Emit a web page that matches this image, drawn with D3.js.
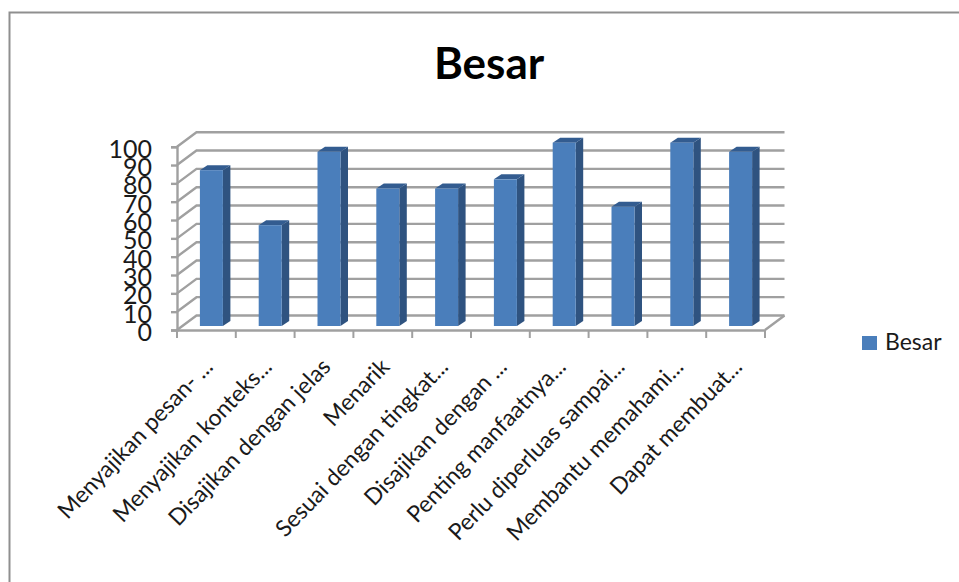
<!DOCTYPE html>
<html>
<head>
<meta charset="utf-8">
<script src="https://cdn.jsdelivr.net/npm/d3@7"></script>
<style>
  html, body { margin: 0; padding: 0; background: #fff; }
  svg { display: block; }
  text { font-family: Lato, "Open Sans", sans-serif; fill: #1a1a1a; }
</style>
</head>
<body>
<svg id="chart"></svg>
<script>
const categories = [
    "Menyajikan pesan- ...",
    "Menyajikan konteks...",
    "Disajikan dengan jelas",
    "Menarik",
    "Sesuai dengan tingkat...",
    "Disajikan dengan ...",
    "Penting manfaatnya...",
    "Perlu diperluas sampai...",
    "Membantu memahami...",
    "Dapat membuat..."
]
const besar = [85, 55, 95, 75, 75, 80, 100, 65, 100, 95]
const yTicks = [0, 10, 20, 30, 40, 50, 60, 70, 80, 90, 100]

const width = 959
const height = 582

const svg = d3.select('#chart')
    .attr('width', width)
    .attr('height', height)

// picture frame, only top and left are visible in the screenshot
svg.append('path')
    .attr('d', 'M9.5,582V12.5H959')
    .attr('fill', 'none')
    .attr('stroke', '#8f8f8f')
    .attr('stroke-width', 2)

svg.append('text')
    .attr('x', 489)
    .attr('y', 79)
    .attr('text-anchor', 'middle')
    .style('font-size', '44px')
    .style('font-weight', 700)
    .style('fill', '#000')
    .text('Besar')

const x = d3.scaleBand().domain(categories).range([177, 765])
const y = d3.scaleLinear().domain([0, 100]).range([330, 146.7])

// depth of the fake 3d floor
const depthX = 19.5
const depthY = -14.5

const gridColor = '#a0a0a0'

// gridlines run up the side wall then along the back wall
svg.append('g')
    .selectAll('path')
    .data(yTicks)
    .join('path')
    .attr('d', d => `M${x.range()[0]},${y(d)}l${depthX},${depthY}H${x.range()[1] + depthX}`)
    .attr('fill', 'none')
    .attr('stroke', gridColor)
    .attr('stroke-width', 2.4)

// floor edge on the right
svg.append('path')
    .attr('d', `M${x.range()[1]},${y(0)}l${depthX},${depthY}`)
    .attr('fill', 'none')
    .attr('stroke', gridColor)
    .attr('stroke-width', 2.4)

const yAxis = d3.axisLeft(y).tickValues(yTicks).tickSize(6).tickPadding(19)
const yG = svg.append('g')
    .attr('transform', `translate(${x.range()[0]},0)`)
    .call(yAxis)
yG.selectAll('line,path').attr('stroke', gridColor).attr('stroke-width', 2.4)
yG.selectAll('text')
    .style('font-size', '25px')
    .style('font-family', 'Lato')
    .attr('dy', '0.42em')

const xAxis = d3.axisBottom(x).tickSize(0).tickFormat('')
const xG = svg.append('g')
    .attr('transform', `translate(0,${y(0)})`)
    .call(xAxis)
xG.selectAll('path').attr('stroke', gridColor).attr('stroke-width', 2.4)

// ticks sit on the band edges, not the centres
svg.append('g')
    .selectAll('line')
    .data(d3.range(categories.length + 1))
    .join('line')
    .attr('x1', i => x.range()[0] + i * x.step())
    .attr('x2', i => x.range()[0] + i * x.step())
    .attr('y1', y(0))
    .attr('y2', y(0) + 8)
    .attr('stroke', gridColor)
    .attr('stroke-width', 2)

// bars
const barW = 23
const barOffX = 5
const barOffY = -4
const sideX = 7.5
const sideY = -5
const bars = svg.append('g')
    .selectAll('g')
    .data(categories.map((c, i) => ({ c, v: besar[i] })))
    .join('g')
    .attr('transform', d => `translate(${x(d.c) + x.bandwidth() / 2 + barOffX - barW / 2},${barOffY})`)

bars.append('path')
    .attr('d', d => `M${barW},${y(d.v)}l${sideX},${sideY}V${y(0) + sideY}l${-sideX},${-sideY}Z`)
    .attr('fill', '#2f5380')

bars.append('path')
    .attr('d', d => `M0,${y(d.v)}l${sideX},${sideY}h${barW}l${-sideX},${-sideY}Z`)
    .attr('fill', '#335c90')

bars.append('rect')
    .attr('x', 0)
    .attr('y', d => y(d.v))
    .attr('width', barW)
    .attr('height', d => y(0) - y(d.v))
    .attr('fill', '#4a7ebb')

// rotated category labels
svg.append('g')
    .selectAll('text')
    .data(categories)
    .join('text')
    .attr('text-anchor', 'end')
    .attr('transform', d => `translate(${x(d) + x.bandwidth() / 2 + 8},${y(0) + 38}) rotate(-46)`)
    .style('font-size', '23px')
    .text(d => d)

// legend
svg.append('rect')
    .attr('x', 862)
    .attr('y', 336)
    .attr('width', 15)
    .attr('height', 14)
    .attr('fill', '#4a7ebb')

svg.append('text')
    .attr('x', 885)
    .attr('y', 350)
    .style('font-size', '23px')
    .text('Besar')
</script>
</body>
</html>
